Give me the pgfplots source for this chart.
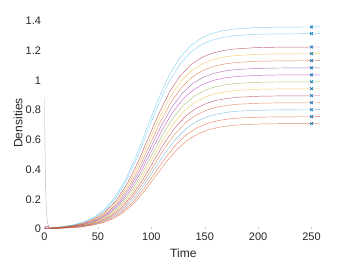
\documentclass[border=0pt]{standalone}
\usepackage{fontspec}
\setmainfont{Liberation Sans}
\usepackage{pgfplots}
\pgfplotsset{compat=1.18}
\definecolor{mblue}{HTML}{0072BD}
\definecolor{morange}{HTML}{D95319}
\definecolor{myellow}{HTML}{EDB120}
\definecolor{mpurple}{HTML}{7E2F8E}
\definecolor{mgreen}{HTML}{77AC30}
\definecolor{mcyan}{HTML}{4DBEEE}
\definecolor{mred}{HTML}{A2142F}
\definecolor{txt}{RGB}{38,38,38}
\begin{document}
\begin{tikzpicture}
\useasboundingbox (-44.5bp,-33bp) rectangle (309.5bp,229bp);
\begin{axis}[
  scale only axis, width=277.7bp, height=208bp,
  xmin=0, xmax=260, ymin=0, ymax=1.4,
  axis line style={draw=none},
  xtick={0,50,100,150,200,250},
  ytick={0,0.2,0.4,0.6,0.8,1,1.2,1.4},
  xtick pos=bottom, ytick pos=left,
  tick align=inside, major tick length=2.5bp,
  xtick style={draw=gray!45, line width=0.4bp},
  ytick style={draw=none},
  /pgf/number format/assume math mode=true,
  ticklabel style={font=\fontsize{11}{13}\selectfont, text=txt},
  xlabel={Time}, ylabel={Densities},
  label style={font=\fontsize{12.1}{14}\selectfont, text=txt},
  xlabel style={at={(axis description cs:0.5,-0.1154)}, anchor=center},
  ylabel style={at={(axis description cs:-0.0954,0.51)}, anchor=center},
  every axis plot/.append style={line width=0.45bp, opacity=0.65},
]
% purple initial transient
\addplot[mpurple!60, opacity=0.7] coordinates {(0,0.9)(0.3,0.62)(0.8,0.36)(1.6,0.15)(2.6,0.05)(4,0.015)};
% curves
\addplot[mcyan] coordinates {(0,0.005)(6,0.0087)(16,0.0152)(26,0.0265)(36,0.0457)(46,0.0780)(56,0.1309)(66,0.2137)(76,0.3346)(86,0.4944)(96,0.68)(106,0.8656)(116,1.0254)(126,1.1463)(136,1.2292)(146,1.2821)(156,1.3143)(166,1.3335)(176,1.3448)(196,1.3550)(216,1.3584)(246,1.3597)(258,1.36)};
\addplot[mcyan] coordinates {(0,0.005)(6.6,0.0085)(16.6,0.0147)(26.6,0.0256)(36.6,0.0441)(46.6,0.0754)(56.6,0.1265)(66.6,0.2066)(76.6,0.3235)(86.6,0.4780)(96.6,0.6575)(106.6,0.8370)(116.6,0.9915)(126.6,1.1084)(136.6,1.1885)(146.6,1.2397)(156.6,1.2708)(166.6,1.2893)(176.6,1.3003)(196.6,1.3101)(216.6,1.3134)(246.6,1.3147)(258,1.315)};
\addplot[mred] coordinates {(0,0.0045)(7.2,0.0079)(17.2,0.0137)(27.2,0.0238)(37.2,0.0411)(47.2,0.0702)(57.2,0.1179)(67.2,0.1924)(77.2,0.3014)(87.2,0.4453)(97.2,0.6125)(107.2,0.7797)(117.2,0.9237)(127.2,1.0326)(137.2,1.1072)(147.2,1.1548)(157.2,1.1838)(167.2,1.2011)(177.2,1.2113)(197.2,1.2205)(217.2,1.2235)(247.2,1.2248)(258,1.225)};
\addplot[myellow] coordinates {(0,0.0043)(7.8,0.0076)(17.8,0.0132)(27.8,0.0230)(37.8,0.0396)(47.8,0.0677)(57.8,0.1135)(67.8,0.1854)(77.8,0.2903)(87.8,0.4289)(97.8,0.59)(107.8,0.7511)(117.8,0.8897)(127.8,0.9946)(137.8,1.0665)(147.8,1.1124)(157.8,1.1404)(167.8,1.1570)(177.8,1.1668)(197.8,1.1756)(217.8,1.1786)(247.8,1.1798)(258,1.18)};
\addplot[morange] coordinates {(0,0.004)(8.5,0.0073)(18.5,0.0127)(28.5,0.0220)(38.5,0.0380)(48.5,0.0650)(58.5,0.1090)(68.5,0.1780)(78.5,0.2787)(88.5,0.4118)(98.5,0.5665)(108.5,0.7212)(118.5,0.8543)(128.5,0.9550)(138.5,1.0240)(148.5,1.0681)(158.5,1.0950)(168.5,1.1109)(178.5,1.1203)(198.5,1.1288)(218.5,1.1316)(248.5,1.1328)(258,1.133)};
\addplot[mpurple] coordinates {(0,0.0038)(9.1,0.0070)(19.1,0.0122)(29.1,0.0211)(39.1,0.0364)(49.1,0.0622)(59.1,0.1044)(69.1,0.1705)(79.1,0.2669)(89.1,0.3944)(99.1,0.5425)(109.1,0.6906)(119.1,0.8181)(129.1,0.9145)(139.1,0.9806)(149.1,1.0228)(159.1,1.0485)(169.1,1.0638)(179.1,1.0728)(199.1,1.0810)(219.1,1.0837)(249.1,1.0848)(258,1.085)};
\addplot[mpurple!60!magenta] coordinates {(0,0.0036)(9.7,0.0067)(19.7,0.0116)(29.7,0.0202)(39.7,0.0348)(49.7,0.0595)(59.7,0.0999)(69.7,0.1631)(79.7,0.2553)(89.7,0.3773)(99.7,0.519)(109.7,0.6607)(119.7,0.7827)(129.7,0.8749)(139.7,0.9381)(149.7,0.9785)(159.7,1.0031)(169.7,1.0178)(179.7,1.0264)(199.7,1.0342)(219.7,1.0368)(249.7,1.0378)(258,1.038)};
\addplot[mgreen] coordinates {(0,0.0034)(10.3,0.0064)(20.3,0.0111)(30.3,0.0193)(40.3,0.0333)(50.3,0.0568)(60.3,0.0954)(70.3,0.1557)(80.3,0.2438)(90.3,0.3602)(100.3,0.4955)(110.3,0.6308)(120.3,0.7472)(130.3,0.8353)(140.3,0.8957)(150.3,0.9342)(160.3,0.9577)(170.3,0.9717)(180.3,0.9799)(200.3,0.9873)(220.3,0.9898)(250.3,0.9908)(258,0.991)};
\addplot[myellow] coordinates {(0,0.0032)(10.9,0.0061)(20.9,0.0106)(30.9,0.0184)(40.9,0.0317)(50.9,0.0541)(60.9,0.0908)(70.9,0.1483)(80.9,0.2322)(90.9,0.3431)(100.9,0.472)(110.9,0.6009)(120.9,0.7118)(130.9,0.7957)(140.9,0.8532)(150.9,0.8899)(160.9,0.9123)(170.9,0.9256)(180.9,0.9334)(200.9,0.9405)(220.9,0.9429)(250.9,0.9438)(258,0.944)};
\addplot[mred] coordinates {(0,0.003)(11.5,0.0058)(21.5,0.0101)(31.5,0.0175)(41.5,0.0301)(51.5,0.0514)(61.5,0.0863)(71.5,0.1409)(81.5,0.2207)(91.5,0.3261)(101.5,0.4485)(111.5,0.5709)(121.5,0.6763)(131.5,0.7561)(141.5,0.8107)(151.5,0.8456)(161.5,0.8669)(171.5,0.8795)(181.5,0.8870)(201.5,0.8937)(221.5,0.8959)(251.5,0.8968)(258,0.897)};
\addplot[morange] coordinates {(0,0.0028)(12.2,0.0055)(22.2,0.0095)(32.2,0.0165)(42.2,0.0285)(52.2,0.0487)(62.2,0.0818)(72.2,0.1335)(82.2,0.2091)(92.2,0.3090)(102.2,0.425)(112.2,0.5410)(122.2,0.6409)(132.2,0.7165)(142.2,0.7682)(152.2,0.8013)(162.2,0.8214)(172.2,0.8334)(182.2,0.8405)(202.2,0.8469)(222.2,0.8490)(252.2,0.8498)(258,0.85)};
\addplot[mblue!70] coordinates {(0,0.0026)(12.8,0.0052)(22.8,0.0090)(32.8,0.0156)(42.8,0.0270)(52.8,0.0460)(62.8,0.0773)(72.8,0.1262)(82.8,0.1975)(92.8,0.2919)(102.8,0.4015)(112.8,0.5111)(122.8,0.6055)(132.8,0.6768)(142.8,0.7258)(152.8,0.7570)(162.8,0.7760)(172.8,0.7873)(182.8,0.7940)(202.8,0.8000)(222.8,0.8020)(252.8,0.8028)(258,0.803)};
\addplot[morange!80!red] coordinates {(0,0.0024)(13.4,0.0049)(23.4,0.0085)(33.4,0.0147)(43.4,0.0254)(53.4,0.0433)(63.4,0.0727)(73.4,0.1188)(83.4,0.1860)(93.4,0.2748)(103.4,0.378)(113.4,0.4812)(123.4,0.5700)(133.4,0.6372)(143.4,0.6833)(153.4,0.7127)(163.4,0.7306)(173.4,0.7413)(183.4,0.7475)(203.4,0.7532)(223.4,0.7551)(253.4,0.7558)(258,0.756)};
\addplot[morange] coordinates {(0,0.0022)(14,0.0046)(24,0.0080)(34,0.0138)(44,0.0238)(54,0.0407)(64,0.0683)(74,0.1115)(84,0.1747)(94,0.2581)(104,0.355)(114,0.4519)(124,0.5353)(134,0.5985)(144,0.6417)(154,0.6693)(164,0.6861)(174,0.6962)(184,0.7020)(204,0.7074)(224,0.7091)(254,0.7099)(258,0.71)};
% end markers
\addplot[only marks, mark=x, mark size=2bp, color=mblue, opacity=1, line width=0.7bp] coordinates {(250,1.36)(250,1.315)(250,1.225)(250,1.18)(250,1.133)(250,1.085)(250,1.038)(250,0.991)(250,0.944)(250,0.897)(250,0.85)(250,0.803)(250,0.756)(250,0.71)};
\addplot[only marks, mark=square, mark size=1.2bp, color=mred!60, opacity=0.8] coordinates {(2,0.012)};
\end{axis}
\end{tikzpicture}
\end{document}
